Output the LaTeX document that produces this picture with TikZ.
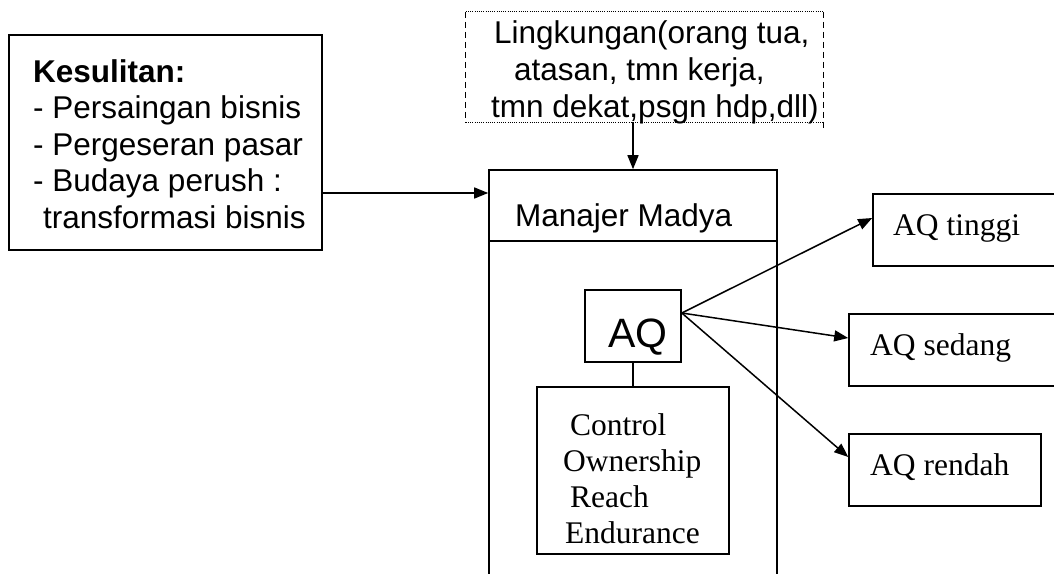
\documentclass[tikz,border=0pt]{standalone}
\usepackage{fontspec}
\setmainfont{Liberation Serif}
\setsansfont{Liberation Sans}
\usetikzlibrary{arrows.meta}
\begin{document}
\begin{tikzpicture}[x=1pt,y=-1pt,
  boxed/.style={draw,line width=1.6pt,inner sep=0pt,minimum width=#1},
  plain/.style={inner sep=0pt,minimum width=#1},
  ar/.style={font=\sffamily\fontsize{31.5}{36}\selectfont,inner sep=0pt,anchor=base west},
  tr/.style={font=\rmfamily\fontsize{31.5}{36}\selectfont,inner sep=0pt,anchor=base west},
  conn/.style={line width=1.5pt,-{Triangle[length=14pt,width=11pt]}},
  link/.style={line width=1.5pt}]
\useasboundingbox (0,0) rectangle (1054,573);
\clip (0,0) rectangle (1054,573);
% boxes
\node[boxed=313pt,minimum height=215pt] (kes) at (165.5,142.5) {};
\node[plain=357pt,minimum height=110pt] (ling) at (644.5,67) {};
\node[boxed=288pt,minimum height=71pt] (head) at (633,205.5) {};
\node[boxed=288pt,minimum height=359pt] (body) at (633,420.5) {};
\node[boxed=96pt,minimum height=72pt] (aq) at (633,326) {};
\node[boxed=192pt,minimum height=167pt] (ctl) at (633,470.5) {};
\node[boxed=187pt,minimum height=72pt] (tinggi) at (966.5,230) {};
\node[boxed=211pt,minimum height=72pt] (sedang) at (954.5,350) {};
\node[boxed=192pt,minimum height=72pt] (rendah) at (945,470) {};
% top box edges
\draw[line width=0.9pt,dash pattern=on 1pt off 1.2pt] (ling.north west) -- (ling.north east);
\draw[line width=0.9pt,dash pattern=on 1pt off 1.2pt] (ling.south west) -- (ling.south east);
\draw[line width=1.2pt,dash pattern=on 6pt off 4pt] (ling.north west) -- (ling.south west);
\draw[line width=1.2pt,dash pattern=on 6pt off 4pt] (ling.north east) -- ([yshift=-8pt]ling.south east);
% texts
\node[ar,font=\sffamily\bfseries\fontsize{31.5}{36}\selectfont] (k1) at (33,82) {Kesulitan:};
\node[ar] (k2) at (33,118.5) {- Persaingan bisnis};
\node[ar] (k3) at (33,155) {- Pergeseran pasar};
\node[ar] (k4) at (33,191.5) {- Budaya perush :};
\node[ar] (k5) at (43,228) {transformasi bisnis};
\node[ar] (l1) at (494,43) {Lingkungan(orang tua,};
\node[ar] (l2) at (514,80) {atasan, tmn kerja,};
\node[ar] (l3) at (491,117) {tmn dekat,psgn hdp,dll)};
\node[ar] (mm) at (515,226) {Manajer Madya};
\node[ar,font=\sffamily\fontsize{41}{46}\selectfont] (aqt) at (608,347) {AQ};
\node[tr] (c1) at (570,435) {Control};
\node[tr] (c2) at (563,471) {Ownership};
\node[tr] (c3) at (570,507) {Reach};
\node[tr] (c4) at (565,543) {Endurance};
\node[tr] (r1) at (893,235) {AQ tinggi};
\node[tr] (r2) at (870,355) {AQ sedang};
\node[tr] (r3) at (870,475) {AQ rendah};
% connectors
\draw[conn] ([yshift=12.5pt]head.west -| kes.east) -- ([yshift=12.5pt]head.west);
\draw[conn] (ling.south -| head.north) -- (head.north);
\draw[link] (aq.south) -- (ctl.north);
\draw[conn] ([yshift=13pt]aq.east) -- ([yshift=12pt]tinggi.west);
\draw[conn] ([yshift=13pt]aq.east) -- ([yshift=12pt]sedang.west);
\draw[conn] ([yshift=13pt]aq.east) -- ([yshift=13pt]rendah.west);
\end{tikzpicture}
\end{document}
